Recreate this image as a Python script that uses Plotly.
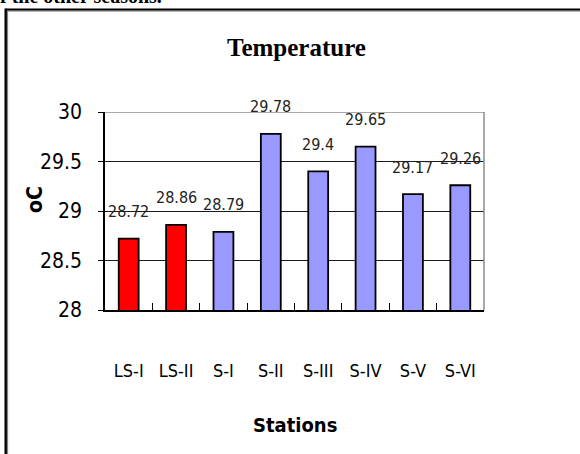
import plotly.graph_objects as go

# Mean temperature per sampling station
stations = ["LS-I", "LS-II", "S-I", "S-II", "S-III", "S-IV", "S-V", "S-VI"]
temps = [28.72, 28.86, 28.79, 29.78, 29.4, 29.65, 29.17, 29.26]
bar_colors = ["#ff0000", "#ff0000", "#9999ff", "#9999ff", "#9999ff", "#9999ff", "#9999ff", "#9999ff"]
y_ticks = [28, 28.5, 29, 29.5, 30]

W, H = 580, 454
ML, MR, MT, MB = 105, 96, 112, 144
PW, PH = W - ML - MR, H - MT - MB

NARROW = "Liberation Sans Narrow, Arial Narrow, DejaVu Sans Condensed, sans-serif"
SERIF = "Liberation Serif, Times New Roman, serif"


def px_x(px):
    return (px - ML) / PW


def px_y(py):
    return (H - MB - py) / PH


fig = go.Figure(
    go.Bar(
        x=stations,
        y=temps,
        width=0.42,
        marker=dict(color=bar_colors, line=dict(color="black", width=1.8)),
        showlegend=False,
    )
)

# value labels above each bar
for s, v in zip(stations, temps):
    fig.add_annotation(
        x=s, y=v, text=f"{v:g}", showarrow=False, yshift=27,
        xanchor="center", yanchor="middle",
        font=dict(family=NARROW, size=16, color="#222222"),
    )

# chart title and axis titles
fig.add_annotation(
    xref="paper", yref="paper", x=px_x(296), y=px_y(47), text="<b>Temperature</b>",
    xanchor="center", yanchor="middle",
    showarrow=False, font=dict(family=SERIF, size=25, color="black"),
)
fig.add_annotation(
    xref="paper", yref="paper", x=px_x(35), y=px_y(200), text="<b>oC</b>", textangle=-90,
    xanchor="center", yanchor="middle",
    showarrow=False, font=dict(family=NARROW, size=21, color="black"),
)
fig.add_annotation(
    xref="paper", yref="paper", x=px_x(295), y=px_y(425), text="<b>Stations</b>",
    xanchor="center", yanchor="middle",
    showarrow=False, font=dict(family=NARROW, size=20, color="black"),
)
# running text of the page above the figure frame
fig.add_annotation(
    xref="paper", yref="paper", x=px_x(-2), y=px_y(-4), xanchor="left", yanchor="middle",
    text="<b>f the other seasons.</b>", showarrow=False,
    font=dict(family=SERIF, size=20, color="black"),
)

# plot-area top and right border in grey
fig.add_shape(type="line", xref="paper", yref="y", x0=0, x1=1, y0=30, y1=30,
              line=dict(color="#8c8c8c", width=1.5), layer="above")
fig.add_shape(type="line", xref="paper", yref="paper", x0=1, x1=1, y0=0, y1=1,
              line=dict(color="#8c8c8c", width=1.5), layer="above")

# figure frame: thick black rule with grey inner rule, top and left
fig.add_shape(type="line", xref="paper", yref="paper", x0=px_x(5.5), x1=px_x(585),
              y0=px_y(9.6), y1=px_y(9.6), line=dict(color="black", width=2.4), layer="above")
fig.add_shape(type="line", xref="paper", yref="paper", x0=px_x(7.5), x1=px_x(585),
              y0=px_y(11), y1=px_y(11), line=dict(color="#777777", width=1), layer="above")
fig.add_shape(type="line", xref="paper", yref="paper", x0=px_x(5.7), x1=px_x(5.7),
              y0=px_y(8.4), y1=px_y(460), line=dict(color="black", width=2.4), layer="above")
fig.add_shape(type="line", xref="paper", yref="paper", x0=px_x(7.6), x1=px_x(7.6),
              y0=px_y(11), y1=px_y(460), line=dict(color="#777777", width=1), layer="above")

fig.update_layout(
    width=W, height=H,
    margin=dict(l=ML, r=MR, t=MT, b=MB),
    paper_bgcolor="white", plot_bgcolor="white",
    bargap=0.58,
    xaxis=dict(
        type="category",
        showline=True, linecolor="black", linewidth=1.6,
        ticks="inside", tickson="boundaries", ticklen=7, tickcolor="black", tickwidth=1.2,
        tickfont=dict(family=NARROW, size=18, color="black"),
        ticklabelstandoff=44,
        showgrid=False,
    ),
    yaxis=dict(
        range=[28, 30], tickvals=y_ticks, ticktext=[f"{t:g}" for t in y_ticks],
        showline=True, linecolor="black", linewidth=1.6,
        ticks="outside", ticklen=5, tickcolor="black", tickwidth=1.2,
        tickfont=dict(family=NARROW, size=21, color="black"),
        ticklabelstandoff=12,
        showgrid=True, gridcolor="#1a1a1a", gridwidth=1.4,
        zeroline=False,
    ),
)

fig.write_html("out.html")
